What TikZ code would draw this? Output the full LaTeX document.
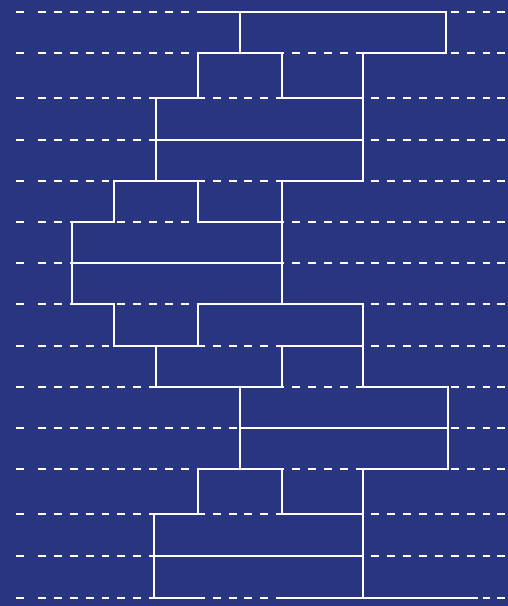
\documentclass[tikz,border=0pt]{standalone}
\definecolor{bgblue}{RGB}{41,53,128}
\tikzset{
  guide/.style={draw=white, line width=2pt, dash pattern=on 7.94pt off 7.94pt},
  stub/.style={draw=white, line width=2pt},
  wall/.style={draw=white, line width=2.2pt, line cap=rect}
}
\begin{document}
\begin{tikzpicture}[x=1pt, y=-1pt]
\fill[bgblue] (0,0) rectangle (508,606);
\useasboundingbox (0,0) rectangle (508,606);
% dashed guide lines
\foreach \yy in {12,53,98,140,181,222,263,304,346,387,428,469,514,556,598}{
  \draw[stub] (16,\yy) -- (24,\yy);
  \draw[guide] (38,\yy) -- (490.4,\yy);
  \draw[stub] (497,\yy) -- (505,\yy);
}
% horizontal walls
\draw[wall] (198,12) -- (446,12);
\draw[wall] (198,53) -- (282,53);   \draw[wall] (363,53) -- (446,53);
\draw[wall] (156,98) -- (198,98); \draw[wall] (282,98) -- (363,98);
\draw[wall] (156,140) -- (363,140);
\draw[wall] (114,181) -- (198,181); \draw[wall] (282,181) -- (363,181);
\draw[wall] (72,222) -- (114,222);  \draw[wall] (198,222) -- (282,222);
\draw[wall] (72,263) -- (282,263);
\draw[wall] (72,304) -- (114,304); \draw[wall] (198,304) -- (363,304);
\draw[wall] (114,346) -- (198,346); \draw[wall] (282,346) -- (363,346);
\draw[wall] (156,387) -- (282,387); \draw[wall] (363,387) -- (448,387);
\draw[wall] (240,428) -- (448,428);
\draw[wall] (198,469) -- (282,469); \draw[wall] (363,469) -- (448,469);
\draw[wall] (154,514) -- (198,514); \draw[wall] (282,514) -- (363,514);
\draw[wall] (154,556) -- (363,556);
\draw[wall] (154,598) -- (198,598); \draw[wall] (282,598) -- (477,598);
% vertical walls
\draw[wall] (240,12) -- (240,53);   \draw[wall] (446,12) -- (446,53);
\draw[wall] (198,53) -- (198,98); \draw[wall] (282,53) -- (282,98);
\draw[wall] (363,53) -- (363,181);
\draw[wall] (156,98) -- (156,181);
\draw[wall] (114,181) -- (114,222); \draw[wall] (198,181) -- (198,222);
\draw[wall] (282,181) -- (282,304);
\draw[wall] (72,222) -- (72,304);
\draw[wall] (114,304) -- (114,346); \draw[wall] (198,304) -- (198,346);
\draw[wall] (363,304) -- (363,387);
\draw[wall] (156,346) -- (156,387); \draw[wall] (282,346) -- (282,387);
\draw[wall] (240,387) -- (240,469); \draw[wall] (448,387) -- (448,469);
\draw[wall] (198,469) -- (198,514); \draw[wall] (282,469) -- (282,514);
\draw[wall] (363,469) -- (363,598);
\draw[wall] (154,514) -- (154,598);
\end{tikzpicture}
\end{document}
